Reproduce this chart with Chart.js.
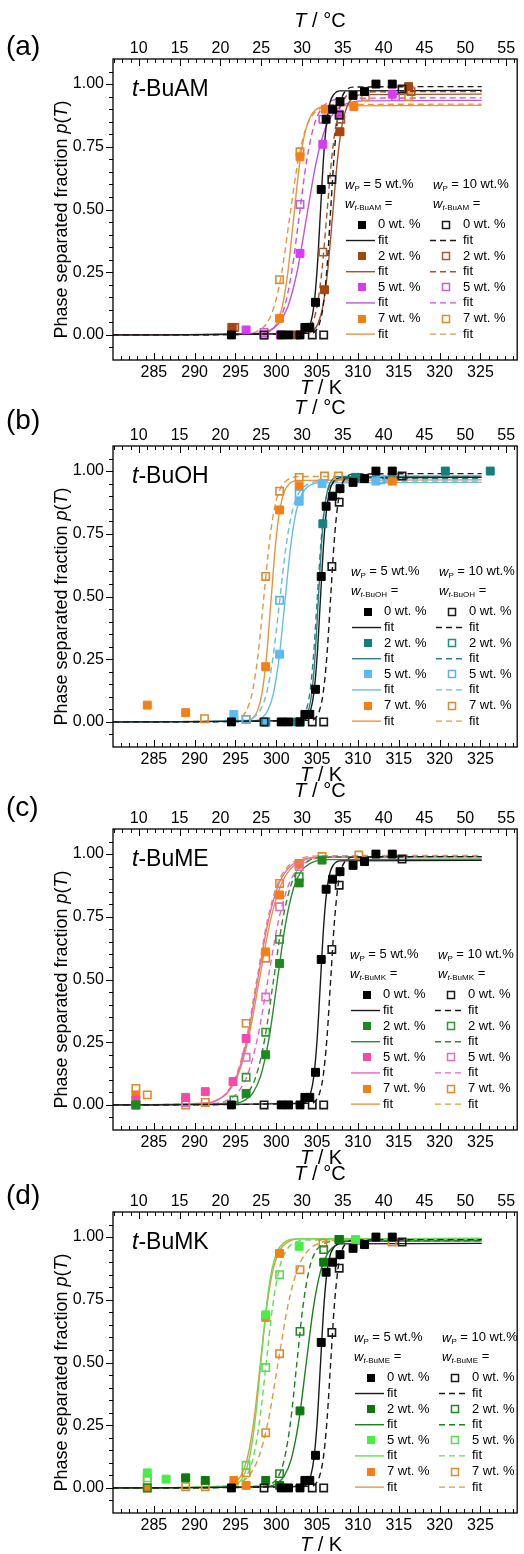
<!DOCTYPE html>
<html>
<head>
<meta charset="utf-8">
<script src="https://cdn.jsdelivr.net/npm/chart.js@4.4.1/dist/chart.umd.min.js"></script>
<style>
  body { margin: 0; background: #fff; }
  #wrap { position: relative; width: 524px; height: 1554px; overflow: hidden; }
  #wrap canvas { position: absolute; left: 0; }
</style>
</head>
<body>
<div id="wrap">
  <canvas id="pa" width="524" height="400" style="top:0px"></canvas>
  <canvas id="pb" width="524" height="400" style="top:387px"></canvas>
  <canvas id="pc" width="524" height="400" style="top:770px"></canvas>
  <canvas id="pd" width="524" height="400" style="top:1153px"></canvas>
</div>
<script>
// ---- axis ticks ----
const kTicks = [285, 290, 295, 300, 305, 310, 315, 320, 325];
const cTicks = [10, 15, 20, 25, 30, 35, 40, 45, 50, 55];
const yTicks = [0, 0.25, 0.5, 0.75, 1.0];
const concLabels = ['0 wt. %', '2 wt. %', '5 wt. %', '7 wt. %'];

// ---- reference (0 wt.% additive), same in every panel: [T/K, p] ----
const ref0_wp5 = [[294.5,0],[300.6,0],[301.5,0],[302.9,0],[303.5,0.03],[304.1,0.03],[304.8,0.13],[305.5,0.58],[306.1,0.86],[306.9,0.90],[307.8,0.93],[309.4,0.955],[310.8,0.97],[312.2,1.0],[314.2,1.0]];
const ref0_wp10 = [[298.5,0],[304.4,0],[305.8,0],[306.8,0.62],[307.7,0.876],[315.4,0.98]];
const ref0_fit5 = [[280,0],[303.4,0.007],[303.8,0.018],[304.2,0.046],[304.6,0.116],[305.0,0.262],[305.4,0.488],[305.8,0.713],[306.2,0.859],[306.6,0.929],[307.0,0.957],[307.8,0.973],[325.15,0.975]];
const ref0_fit10 = [[280,0],[304.4,0.007],[304.85,0.018],[305.3,0.047],[305.75,0.118],[306.2,0.266],[306.65,0.495],[307.1,0.724],[307.55,0.872],[308.0,0.943],[308.45,0.972],[309.35,0.988],[325.15,0.99]];

// ---- (a) t-BuAM ----
const a2_wp5 = [[294.6,0.03],[302.5,0],[305.9,0.18],[307.8,0.81],[316.2,0.99]];
const a2_wp10 = [[294.9,0.03],[305.7,0.33],[307.9,0.86],[316.5,0.97]];
const a5_wp5 = [[296.3,0.02],[300.5,0],[302.9,0.325],[305.7,0.76],[307.7,0.88],[314.2,0.96]];
const a5_wp10 = [[298.5,0.01],[302.9,0.52],[305.7,0.86],[314.6,0.95]];
const a7_wp5 = [[294.5,0.03],[300.4,0.066],[302.9,0.71],[306.0,0.9],[309.5,0.91]];
const a7_wp10 = [[294.9,0.03],[298.5,0],[300.4,0.22],[302.9,0.73],[310.9,0.95],[316.2,0.95]];
const a2_fit5 = [[280,0],[303.9,0.006],[304.5,0.017],[305.1,0.045],[305.7,0.114],[306.3,0.258],[306.9,0.48],[307.5,0.702],[308.1,0.846],[308.7,0.915],[309.3,0.943],[310.5,0.958],[325.15,0.96]];
const a2_fit10 = [[280,0],[303.2,0.006],[303.8,0.017],[304.4,0.046],[305.0,0.115],[305.6,0.261],[306.2,0.485],[306.8,0.709],[307.4,0.855],[308.0,0.924],[308.6,0.953],[309.8,0.968],[325.15,0.97]];
const a5_fit5 = [[280,0],[297.95,0.006],[299.1,0.017],[300.25,0.044],[301.4,0.111],[302.55,0.252],[303.7,0.468],[304.85,0.683],[306.0,0.824],[307.15,0.891],[308.3,0.918],[310.6,0.933],[325.15,0.935]];
const a5_fit10 = [[280,0],[298.3,0.006],[299.2,0.017],[300.1,0.044],[301.0,0.112],[301.9,0.254],[302.8,0.473],[303.7,0.691],[304.6,0.833],[305.5,0.901],[306.4,0.928],[308.2,0.943],[325.15,0.945]];
const a7_fit5 = [[280,0],[298.6,0.006],[299.3,0.016],[300.0,0.043],[300.7,0.109],[301.4,0.246],[302.1,0.458],[302.8,0.669],[303.5,0.806],[304.2,0.872],[304.9,0.899],[306.3,0.913],[325.15,0.915]];
const a7_fit10 = [[280,0],[296.85,0.006],[297.8,0.017],[298.75,0.043],[299.7,0.109],[300.65,0.247],[301.6,0.46],[302.55,0.673],[303.5,0.811],[304.45,0.877],[305.4,0.903],[307.3,0.918],[325.15,0.92]];

// ---- (b) t-BuOH ----
const b2_wp5 = [[302.6,0],[305.7,0.79],[309.7,0.975],[320.7,1.0],[326.2,1.0]];
const b2_wp10 = [[298.7,0],[302.9,0],[310.5,0.97]];
const b5_wp5 = [[294.8,0.03],[298.7,0],[300.4,0.27],[302.8,0.88],[305.6,0.95],[312.2,0.96]];
const b5_wp10 = [[296.3,0.01],[300.4,0.485],[302.8,0.91],[312.8,0.965]];
const b7_wp5 = [[284.2,0.067],[288.9,0.037],[298.7,0.22],[300.4,0.845],[302.8,0.94],[314.2,0.96]];
const b7_wp10 = [[291.2,0.013],[296.3,0.01],[298.7,0.58],[300.4,0.92],[302.8,0.975],[305.9,0.98],[307.6,0.98]];
const b2_fit5 = [[280,0],[303.15,0.007],[303.55,0.018],[303.95,0.046],[304.35,0.117],[304.75,0.264],[305.15,0.49],[305.55,0.716],[305.95,0.863],[306.35,0.934],[306.75,0.962],[307.55,0.978],[325.15,0.98]];
const b2_fit10 = [[280,0],[302.75,0.006],[303.2,0.017],[303.65,0.046],[304.1,0.115],[304.55,0.261],[305.0,0.485],[305.45,0.709],[305.9,0.855],[306.35,0.924],[306.8,0.953],[307.7,0.968],[325.15,0.97]];
const b5_fit5 = [[280,0],[297.55,0.006],[298.25,0.017],[298.95,0.045],[299.65,0.114],[300.35,0.257],[301.05,0.478],[301.75,0.698],[302.45,0.841],[303.15,0.91],[303.85,0.938],[305.25,0.953],[325.15,0.955]];
const b5_fit10 = [[280,0],[296.4,0.006],[297.2,0.017],[298.0,0.045],[298.8,0.114],[299.6,0.258],[300.4,0.48],[301.2,0.702],[302.0,0.846],[302.8,0.915],[303.6,0.943],[305.2,0.958],[325.15,0.96]];
const b7_fit5 = [[280,0],[296.6,0.006],[297.15,0.017],[297.7,0.045],[298.25,0.115],[298.8,0.26],[299.35,0.483],[299.9,0.705],[300.45,0.85],[301.0,0.92],[301.55,0.948],[302.65,0.963],[325.15,0.965]];
const b7_fit10 = [[280,0],[294.95,0.007],[295.65,0.018],[296.35,0.046],[297.05,0.117],[297.75,0.264],[298.45,0.49],[299.15,0.716],[299.85,0.863],[300.55,0.934],[301.25,0.962],[302.65,0.978],[325.15,0.98]];

// ---- (c) t-BuME ----
const c2_wp5 = [[282.8,0],[296.3,0.046],[298.7,0.2],[300.4,0.564],[302.8,0.885],[305.6,0.976]];
const c2_wp10 = [[282.8,0],[294.8,0.02],[296.3,0.11],[298.7,0.29],[300.4,0.66],[302.8,0.91]];
const c5_wp5 = [[282.8,0.02],[288.9,0.03],[291.3,0.053],[294.7,0.093],[296.3,0.265]];
const c5_wp10 = [[288.9,0.01],[296.3,0.19],[298.7,0.43],[300.4,0.79],[302.8,0.95]];
const c7_wp5 = [[282.8,0.04],[298.7,0.61],[300.4,0.837],[302.8,0.96]];
const c7_wp10 = [[282.8,0.066],[284.2,0.04],[288.9,0],[291.3,0.01],[296.3,0.325],[298.7,0.585],[300.4,0.883],[302.8,0.963],[305.6,0.99],[310.1,0.996]];
const c2_fit5 = [[280,0],[295.1,0.007],[296.1,0.018],[297.1,0.046],[298.1,0.117],[299.1,0.264],[300.1,0.49],[301.1,0.716],[302.1,0.863],[303.1,0.934],[304.1,0.962],[306.1,0.978],[325.15,0.98]];
const c2_fit10 = [[280,0],[294.4,0.007],[295.45,0.018],[296.5,0.047],[297.55,0.118],[298.6,0.266],[299.65,0.495],[300.7,0.724],[301.75,0.872],[302.8,0.943],[303.85,0.972],[305.95,0.988],[325.15,0.99]];
const c5_fit5 = [[280,0],[291.45,0.007],[292.7,0.018],[293.95,0.047],[295.2,0.118],[296.45,0.266],[297.7,0.495],[298.95,0.724],[300.2,0.872],[301.45,0.943],[302.7,0.972],[305.2,0.988],[325.15,0.99]];
const c5_fit10 = [[280,0],[292.7,0.007],[293.95,0.018],[295.2,0.047],[296.45,0.118],[297.7,0.266],[298.95,0.495],[300.2,0.724],[301.45,0.872],[302.7,0.943],[303.95,0.972],[306.45,0.988],[325.15,0.99]];
const c7_fit5 = [[280,0],[291.4,0.007],[292.7,0.018],[294.0,0.047],[295.3,0.118],[296.6,0.266],[297.9,0.495],[299.2,0.724],[300.5,0.872],[301.8,0.943],[303.1,0.972],[305.7,0.988],[325.15,0.99]];
const c7_fit10 = [[280,0],[291.35,0.007],[292.6,0.018],[293.85,0.047],[295.1,0.118],[296.35,0.268],[297.6,0.498],[298.85,0.727],[300.1,0.877],[301.35,0.948],[302.6,0.977],[305.1,0.993],[325.15,0.995]];

// ---- (d) t-BuMK ----
const d2_wp5 = [[288.9,0.04],[291.3,0.03],[298.7,0.03],[300.4,0.01],[302.9,0.307],[305.8,0.9],[307.7,0.99]];
const d2_wp10 = [[284.2,0],[300.4,0.057],[302.9,0.624],[305.8,0.95],[307.7,0.99]];
const d5_wp5 = [[284.2,0.06],[286.5,0.035],[288.9,0.04],[298.7,0.69],[302.8,0.963],[309.7,0.99]];
const d5_wp10 = [[284.2,0.04],[296.3,0.09],[298.7,0.48],[300.4,0.85],[307.7,0.99]];
const d7_wp5 = [[284.2,0],[294.8,0.03],[296.3,0.01],[298.7,0.68],[300.4,0.935]];
const d7_wp10 = [[284.2,0.03],[288.9,0.005],[291.3,0.005],[296.3,0.06],[298.7,0.22],[300.4,0.535],[302.9,0.87],[305.7,0.975],[314.2,0.98]];
const d2_fit5 = [[280,0],[299.15,0.007],[300.05,0.018],[300.95,0.046],[301.85,0.117],[302.75,0.265],[303.65,0.493],[304.55,0.72],[305.45,0.868],[306.35,0.939],[307.25,0.967],[309.05,0.983],[325.15,0.985]];
const d2_fit10 = [[280,0],[298.75,0.007],[299.5,0.018],[300.25,0.046],[301.0,0.117],[301.75,0.265],[302.5,0.493],[303.25,0.72],[304.0,0.868],[304.75,0.939],[305.5,0.967],[307.0,0.983],[325.15,0.985]];
const d5_fit5 = [[280,0],[294.6,0.007],[295.3,0.018],[296.0,0.047],[296.7,0.118],[297.4,0.268],[298.1,0.498],[298.8,0.727],[299.5,0.877],[300.2,0.948],[300.9,0.977],[302.3,0.993],[325.15,0.995]];
const d5_fit10 = [[280,0],[294.75,0.007],[295.55,0.018],[296.35,0.047],[297.15,0.118],[297.95,0.266],[298.75,0.495],[299.55,0.724],[300.35,0.872],[301.15,0.943],[301.95,0.972],[303.55,0.988],[325.15,0.99]];
const d7_fit5 = [[280,0],[294.05,0.007],[294.85,0.018],[295.65,0.047],[296.45,0.118],[297.25,0.268],[298.05,0.498],[298.85,0.727],[299.65,0.877],[300.45,0.948],[301.25,0.977],[302.85,0.993],[325.15,0.995]];
const d7_fit10 = [[280,0],[294.2,0.007],[295.4,0.018],[296.6,0.047],[297.8,0.118],[299.0,0.266],[300.2,0.495],[301.4,0.724],[302.6,0.872],[303.8,0.943],[305.0,0.972],[307.4,0.988],[325.15,0.99]];

// ---- look ----
const FONT = '"Liberation Sans", Arial, sans-serif';
const black = { fill: '#000000', open: '#1a1a1a', line: '#1a1a1a' };
const orange = { fill: '#F57F17', open: '#E0892E', line: '#E8953E' };

const panels = [
  { canvas: 'pa', tag: '(a)', tagY: -12, kTitleY: 28, name: 'BuAM', sub: 'BuAM', dx: 0,
    sets: [
      [ref0_wp5, ref0_wp10, ref0_fit5, ref0_fit10, black],
      [a2_wp5, a2_wp10, a2_fit5, a2_fit10, { fill: '#A5460F', open: '#A85A30', line: '#A5532A' }],
      [a5_wp5, a5_wp10, a5_fit5, a5_fit10, { fill: '#D63DF0', open: '#C45FDA', line: '#C452E0' }],
      [a7_wp5, a7_wp10, a7_fit5, a7_fit10, orange]
    ] },
  { canvas: 'pb', tag: '(b)', tagY: -25, kTitleY: 28, name: 'BuOH', sub: 'BuOH', dx: 6,
    sets: [
      [ref0_wp5, ref0_wp10, ref0_fit5, ref0_fit10, black],
      [b2_wp5, b2_wp10, b2_fit5, b2_fit10, { fill: '#137F7F', open: '#2B8A8A', line: '#2A8282' }],
      [b5_wp5, b5_wp10, b5_fit5, b5_fit10, { fill: '#5CB9F2', open: '#58B2E8', line: '#66BDEB' }],
      [b7_wp5, b7_wp10, b7_fit5, b7_fit10, orange]
    ] },
  { canvas: 'pc', tag: '(c)', tagY: -21, kTitleY: 28, name: 'BuME', sub: 'BuMK', dx: 5,
    sets: [
      [ref0_wp5, ref0_wp10, ref0_fit5, ref0_fit10, black],
      [c2_wp5, c2_wp10, c2_fit5, c2_fit10, { fill: '#1E8A1E', open: '#2E992E', line: '#2E8B2E' }],
      [c5_wp5, c5_wp10, c5_fit5, c5_fit10, { fill: '#F24AA8', open: '#E06CC8', line: '#E865C0' }],
      [c7_wp5, c7_wp10, c7_fit5, c7_fit10, orange]
    ] },
  { canvas: 'pd', tag: '(d)', tagY: -16, kTitleY: 32, name: 'BuMK', sub: 'BuME', dx: 9,
    sets: [
      [ref0_wp5, ref0_wp10, ref0_fit5, ref0_fit10, black],
      [d2_wp5, d2_wp10, d2_fit5, d2_fit10, { fill: '#0E780E', open: '#1F8A1F', line: '#1E801E' }],
      [d5_wp5, d5_wp10, d5_fit5, d5_fit10, { fill: '#46EE46', open: '#55DD55', line: '#66DD55' }],
      [d7_wp5, d7_wp10, d7_fit5, d7_fit10, orange]
    ] }
];

function fontStr(p) { return (p.it ? 'italic ' : '') + p.size + 'px ' + FONT; }

// draws mixed italic / subscript text
function rich(ctx, parts, x, y, align) {
  let w = 0;
  parts.forEach(p => { ctx.font = fontStr(p); p.w = ctx.measureText(p.t).width; w += p.w; });
  let cx = align === 'center' ? x - w / 2 : x;
  ctx.textAlign = 'left';
  ctx.textBaseline = 'middle';
  parts.forEach(p => { ctx.font = fontStr(p); ctx.fillText(p.t, cx, y + (p.dy || 0)); cx += p.w; });
}

function pts(arr) { return arr.map(d => ({ x: d[0], y: d[1] })); }

function decor(panel) {
  return {
    id: 'decor',
    afterDraw(chart) {
      const ctx = chart.ctx, a = chart.chartArea;
      const sx = chart.scales.x, st = chart.scales.x2, sy = chart.scales.y;
      ctx.save();
      ctx.fillStyle = '#000';
      ctx.strokeStyle = '#000';

      // frame
      ctx.lineWidth = 1.3;
      ctx.strokeRect(a.left, a.top, a.right - a.left, a.bottom - a.top);

      // tick marks
      ctx.lineWidth = 1;
      ctx.beginPath();
      for (let k = 281; k <= 329; k++) {
        const x = Math.round(sx.getPixelForValue(k)) + 0.5;
        const len = k % 5 === 0 ? 7 : 4;
        ctx.moveTo(x, a.bottom); ctx.lineTo(x, a.bottom - len);
      }
      for (let c = 7; c <= 56; c++) {
        const x = Math.round(st.getPixelForValue(c)) + 0.5;
        const len = c % 5 === 0 ? 7 : 4;
        ctx.moveTo(x, a.top); ctx.lineTo(x, a.top + len);
      }
      for (let i = -1; i <= 21; i++) {
        const y = Math.round(sy.getPixelForValue(i * 0.05)) + 0.5;
        const len = i % 5 === 0 ? 7 : 4;
        ctx.moveTo(a.left, y); ctx.lineTo(a.left - len, y);
      }
      ctx.stroke();

      // axis titles
      rich(ctx, [{ t: 'T', it: 1, size: 20 }, { t: ' / °C', size: 20 }], 320, a.top - 38, 'center');
      rich(ctx, [{ t: 'T', it: 1, size: 20 }, { t: ' / K', size: 20 }], 321, a.bottom + panel.kTitleY, 'center');
      ctx.save();
      ctx.translate(62, (a.top + a.bottom) / 2 + 10);
      ctx.rotate(-Math.PI / 2);
      rich(ctx, [{ t: 'Phase separated fraction ', size: 18 }, { t: 'p', it: 1, size: 18 },
                 { t: '(', size: 18 }, { t: 'T', it: 1, size: 18 }, { t: ')', size: 18 }], 0, 0, 'center');
      ctx.restore();

      // panel tag and additive name
      rich(ctx, [{ t: panel.tag, size: 28 }], 6, a.top + panel.tagY, 'left');
      rich(ctx, [{ t: 't', it: 1, size: 23 }, { t: '-' + panel.name, size: 23 }], 132, a.top + 31, 'left');

      // legend
      const y0 = sy.getPixelForValue(0);
      const dx = panel.dx, step = 15.6;
      const c1 = 345 + dx, c2 = 433 + dx;
      rich(ctx, [{ t: 'w', it: 1, size: 13 }, { t: 'P', size: 8, dy: 4 }, { t: ' = 5 wt.%', size: 13 }], c1, y0 - 150, 'left');
      rich(ctx, [{ t: 'w', it: 1, size: 13 }, { t: 'P', size: 8, dy: 4 }, { t: ' = 10 wt.%', size: 13 }], c2, y0 - 150, 'left');
      const subParts = () => [{ t: 'w', it: 1, size: 13 }, { t: 't', it: 1, size: 8, dy: 4 },
                              { t: '-' + panel.sub, size: 8, dy: 4 }, { t: ' =', size: 13 }];
      rich(ctx, subParts(), c1, y0 - 131, 'left');
      rich(ctx, subParts(), c2, y0 - 131, 'left');

      panel.sets.forEach((s, i) => {
        const col = s[4];
        const yy = y0 - 110 + i * 2 * step;
        const yf = yy + step;
        ctx.fillStyle = col.fill;
        ctx.fillRect(362 + dx - 4, Math.round(yy) - 4, 8, 8);
        ctx.strokeStyle = col.open;
        ctx.lineWidth = 1.5;
        ctx.setLineDash([]);
        ctx.strokeRect(446 + dx - 3.5, Math.round(yy) - 3.5, 7, 7);
        ctx.strokeStyle = col.line;
        ctx.lineWidth = 1.4;
        ctx.beginPath(); ctx.moveTo(346 + dx, yf); ctx.lineTo(375 + dx, yf); ctx.stroke();
        ctx.setLineDash([6, 4]);
        ctx.beginPath(); ctx.moveTo(430 + dx, yf); ctx.lineTo(459 + dx, yf); ctx.stroke();
        ctx.setLineDash([]);
        ctx.fillStyle = '#000';
        rich(ctx, [{ t: concLabels[i], size: 13 }], 378 + dx, yy, 'left');
        rich(ctx, [{ t: concLabels[i], size: 13 }], 463 + dx, yy, 'left');
        rich(ctx, [{ t: 'fit', size: 13 }], 378 + dx, yf, 'left');
        rich(ctx, [{ t: 'fit', size: 13 }], 463 + dx, yf, 'left');
      });
      ctx.restore();
    }
  };
}

function makePanel(panel) {
  const points = [], lines = [];
  panel.sets.forEach(s => {
    const col = s[4];
    points.push({ data: pts(s[0]), pointStyle: 'rect', pointRadius: 5.6, backgroundColor: col.fill,
                  borderColor: col.fill, borderWidth: 1, showLine: false });
    points.push({ data: pts(s[1]), pointStyle: 'rect', pointRadius: 5.2, backgroundColor: 'rgba(255,255,255,0)',
                  borderColor: col.open, borderWidth: 1.6, showLine: false });
    lines.push({ data: pts(s[2]), showLine: true, pointRadius: 0, borderColor: col.line, borderWidth: 1.4,
                 cubicInterpolationMode: 'monotone', fill: false });
    lines.push({ data: pts(s[3]), showLine: true, pointRadius: 0, borderColor: col.line, borderWidth: 1.4,
                 borderDash: [6, 4], cubicInterpolationMode: 'monotone', fill: false });
  });

  const tickFont = { family: FONT, size: 16 };
  new Chart(document.getElementById(panel.canvas), {
    type: 'scatter',
    data: { datasets: points.concat(lines) },
    options: {
      responsive: false,
      animation: false,
      events: [],
      layout: { padding: 0 },
      plugins: { legend: { display: false }, tooltip: { enabled: false } },
      scales: {
        x: {
          type: 'linear', position: 'bottom', min: 280, max: 329.5,
          grid: { display: false, drawTicks: false }, border: { display: false },
          ticks: { font: tickFont, color: '#000', padding: 3, maxRotation: 0, callback: v => String(v) },
          afterBuildTicks: s => { s.ticks = kTicks.map(v => ({ value: v })); },
          afterFit: s => { s.height = 40; }
        },
        x2: {
          type: 'linear', position: 'top', min: 280 - 273.15, max: 329.5 - 273.15,
          grid: { display: false, drawTicks: false }, border: { display: false },
          ticks: { font: tickFont, color: '#000', padding: 1, maxRotation: 0, callback: v => String(v) },
          afterBuildTicks: s => { s.ticks = cTicks.map(v => ({ value: v })); },
          afterFit: s => { s.height = 59; }
        },
        y: {
          type: 'linear', position: 'left', min: -0.1, max: 1.1,
          grid: { display: false, drawTicks: false }, border: { display: false },
          ticks: { font: tickFont, color: '#000', padding: 9, callback: v => Number(v).toFixed(2) },
          afterBuildTicks: s => { s.ticks = yTicks.map(v => ({ value: v })); },
          afterFit: s => { s.width = 113; }
        },
        y2: {
          type: 'linear', position: 'right', min: -0.1, max: 1.1,
          grid: { display: false, drawTicks: false }, border: { display: false },
          ticks: { display: false },
          afterFit: s => { s.width = 3; }
        }
      }
    },
    plugins: [decor(panel)]
  });
}

panels.forEach(makePanel);
</script>
</body>
</html>
